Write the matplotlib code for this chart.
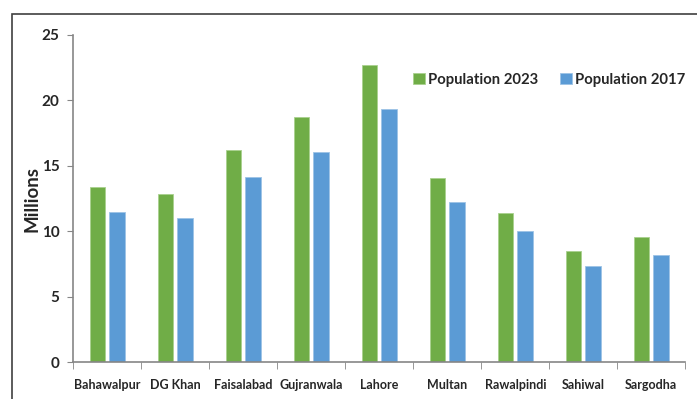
import matplotlib
matplotlib.use("Agg")
import matplotlib.pyplot as plt
import numpy as np
from matplotlib.patches import Rectangle

divisions = ["Bahawalpur", "DG Khan", "Faisalabad", "Gujranwala", "Lahore",
             "Multan", "Rawalpindi", "Sahiwal", "Sargodha"]
pop_2023 = [13.35, 12.87, 16.18, 18.73, 22.71, 14.04, 11.39, 8.51, 9.56]
pop_2017 = [11.44, 10.98, 14.14, 16.08, 19.34, 12.23, 9.99, 7.36, 8.15]

green = "#70AD47"
blue = "#5B9BD5"
txt = "#262626"
axcol = "#868686"

plt.rcParams['font.family'] = ['Lato', 'DejaVu Sans']

fig = plt.figure(figsize=(6.97, 3.99), dpi=100)
ax = fig.add_axes([0.1052, 0.0927, 0.8780, 0.8196])

x = np.arange(len(divisions))
w = 0.225
off = 0.143
ax.bar(x - off, pop_2023, w, color=green, edgecolor="#A9D18E", linewidth=0.6, label="Population 2023")
ax.bar(x + off, pop_2017, w, color=blue, edgecolor="#9DC3E6", linewidth=0.6, label="Population 2017")

ax.set_xlim(-0.5, len(divisions) - 0.5)
ax.set_ylim(0, 25)
ax.set_yticks([0, 5, 10, 15, 20, 25])
ax.set_xticks(x)
ax.set_xticklabels(divisions)
ax.set_xticks(np.arange(len(divisions) + 1) - 0.5, minor=True)
ax.tick_params(axis='x', which='major', length=0, pad=12)
ax.tick_params(axis='x', which='minor', length=5, color=axcol, direction='out')
ax.tick_params(axis='y', length=4, color=axcol, pad=6)
for lab in ax.get_xticklabels():
    lab.set_fontsize(9)
    lab.set_fontweight('bold')
    lab.set_color(txt)
for lab in ax.get_yticklabels():
    lab.set_fontsize(11)
    lab.set_fontweight('bold')
    lab.set_color(txt)

for s in ['top', 'right']:
    ax.spines[s].set_visible(False)
for s in ['left', 'bottom']:
    ax.spines[s].set_color(axcol)
    ax.spines[s].set_linewidth(1.2)

ax.set_ylabel("Millions", fontsize=13.5, fontweight='bold', color=txt, labelpad=1)

leg = ax.legend(loc='upper right', bbox_to_anchor=(1.0, 0.885), ncol=2, frameon=False,
                borderpad=0, borderaxespad=0,
                handlelength=0.8, handleheight=0.85, handletextpad=0.2, columnspacing=1.5,
                prop={'size': 10.7, 'weight': 'bold'})
for t in leg.get_texts():
    t.set_color(txt)

# outer frame of the original picture
fig.patches.append(Rectangle((12 / 697, -0.05), 1.0, 1 - 14 / 399 + 0.05,
                             transform=fig.transFigure, fill=False,
                             edgecolor="#404040", linewidth=1.2))

fig.savefig("out.png", dpi=100)
